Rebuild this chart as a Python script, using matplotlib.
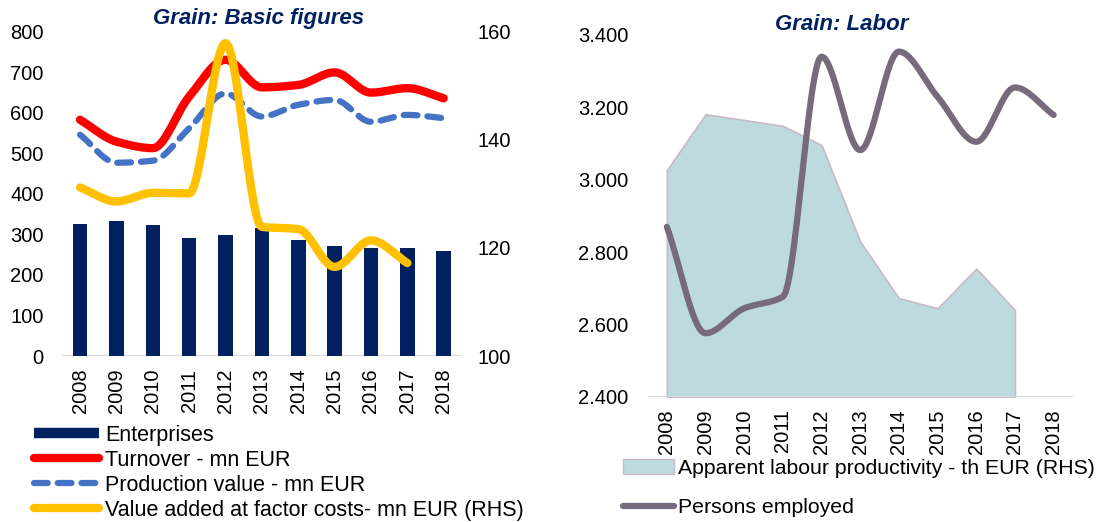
import numpy as np
import matplotlib
matplotlib.use("Agg")
import matplotlib.pyplot as plt
from matplotlib.patches import Patch
from matplotlib.lines import Line2D

plt.rcParams['font.family'] = ['Liberation Sans', 'DejaVu Sans']
plt.rcParams['font.size'] = 14.5

years = [2008, 2009, 2010, 2011, 2012, 2013, 2014, 2015, 2016, 2017, 2018]

# basic figures
enterprises = [326, 333, 323, 292, 298, 316, 287, 272, 267, 267, 259]
turnover = [583, 529, 513, 640, 731, 663, 669, 700, 650, 661, 636]
production = [546, 477, 482, 562, 648, 591, 620, 632, 578, 595, 587]
value_added = [131.2, 128.6, 130.2, 130.1, 157.9, 123.9, 123.5, 116.5, 121.4, 117.2]  # RHS, no 2018

# labour
persons = [2870, 2576, 2645, 2677, 3340, 3082, 3354, 3229, 3105, 3255, 3179]
productivity = [3027, 3181, 3165, 3149, 3096, 2829, 2673, 2645, 2755, 2640]  # RHS, no 2018

NAVY = '#002060'
RED = '#FF0000'
BLUE = '#4472C4'
GOLD = '#FFC000'
MAUVE = '#776A7D'
TEAL = '#BDDADF'


def smooth(x, y, n=30):
    # monotone cubic (Fritsch-Carlson) curve through the points
    x = np.asarray(x, float)
    y = np.asarray(y, float)
    h = np.diff(x)
    d = np.diff(y) / h
    m = np.zeros_like(y)
    m[0], m[-1] = d[0], d[-1]
    for i in range(1, len(y) - 1):
        if d[i - 1] * d[i] > 0:
            w1 = 2 * h[i] + h[i - 1]
            w2 = h[i] + 2 * h[i - 1]
            m[i] = (w1 + w2) / (w1 / d[i - 1] + w2 / d[i])
    xs, ys = [], []
    t = np.linspace(0, 1, n, endpoint=False)
    for i in range(len(h)):
        h00 = 2 * t ** 3 - 3 * t ** 2 + 1
        h10 = t ** 3 - 2 * t ** 2 + t
        h01 = -2 * t ** 3 + 3 * t ** 2
        h11 = t ** 3 - t ** 2
        xs.extend(x[i] + t * h[i])
        ys.extend(h00 * y[i] + h10 * h[i] * m[i] + h01 * y[i + 1] + h11 * h[i] * m[i + 1])
    xs.append(x[-1])
    ys.append(y[-1])
    return np.array(xs), np.array(ys)


def clean(ax):
    for s in ax.spines.values():
        s.set_visible(False)
    ax.tick_params(length=0)


fig = plt.figure(figsize=(11.05, 5.22), dpi=100)

# ---- left chart: basic figures ----
ax = fig.add_axes([0.056, 0.318, 0.362, 0.621])
x = np.arange(len(years))
ax.bar(x, enterprises, width=0.4, color=NAVY, zorder=2)
sx, sy = smooth(x, turnover)
ax.plot(sx, sy, color=RED, lw=6, solid_capstyle='round', zorder=3)
sx, sy = smooth(x, production)
ax.plot(sx, sy, color=BLUE, lw=4.5, dashes=(2.2, 1.6), dash_capstyle='round', zorder=3)
ax.set_ylim(0, 800)
ax.set_yticks(range(0, 801, 100))
ax.set_xlim(-0.5, len(years) - 0.5)
ax.set_xticks(x)
ax.set_xticklabels(years, rotation=90)
clean(ax)
ax.tick_params(axis='y', pad=13)
ax.tick_params(axis='x', pad=9)
ax.axhline(0, color='#D9D9D9', lw=1.5, zorder=1)

ax2 = ax.twinx()
sx, sy = smooth(x[:len(value_added)], value_added)
ax2.plot(sx, sy, color=GOLD, lw=6, solid_capstyle='round', zorder=4)
ax2.set_ylim(100, 160)
ax2.set_yticks([100, 120, 140, 160])
clean(ax2)
ax2.tick_params(axis='y', pad=11)

fig.text(0.234, 0.965, 'Grain: Basic figures', color=NAVY, fontsize=16,
         fontweight='bold', fontstyle='italic', ha='center', va='center')

h_left = [
    Line2D([], [], color=NAVY, lw=7.5, solid_capstyle='butt'),
    Line2D([], [], color=RED, lw=6, solid_capstyle='round'),
    Line2D([], [], color=BLUE, lw=4.5, dashes=(2.2, 1.6), dash_capstyle='round'),
    Line2D([], [], color=GOLD, lw=6, solid_capstyle='round'),
]
fig.legend(h_left, ['Enterprises', 'Turnover - mn EUR', 'Production value - mn EUR',
                    'Value added at factor costs- mn EUR (RHS)'],
           loc='upper left', bbox_to_anchor=(0.021, 0.207), frameon=False,
           handlelength=3.0, handletextpad=0.3, labelspacing=0.19, borderpad=0,
           fontsize=15.5)

# ---- right chart: labour ----
bx = fig.add_axes([0.586, 0.2395, 0.385, 0.6935])
bx2 = bx.twinx()
xp = np.arange(len(productivity))
bx2.fill_between(xp, productivity, 2400, color=TEAL, edgecolor='#C9B9C9', lw=1.2)
bx2.set_ylim(2400, 3400)
bx2.set_yticks([])
clean(bx2)

sx, sy = smooth(x, persons)
bx.plot(sx, sy, color=MAUVE, lw=4.5, solid_capstyle='round', zorder=3)
bx.set_ylim(2400, 3400)
bx.set_yticks(range(2400, 3401, 200))
bx.set_yticklabels([f'{v:,}'.replace(',', '.') for v in range(2400, 3401, 200)])
bx.set_xlim(-0.5, len(years) - 0.5)
bx.set_xticks(x)
bx.set_xticklabels(years, rotation=90)
clean(bx)
bx.tick_params(axis='y', pad=14)
bx.tick_params(axis='x', pad=9)
bx.set_zorder(bx2.get_zorder() + 1)
bx.patch.set_visible(False)
bx.axhline(2400, color='#D9D9D9', lw=1.5, zorder=1)

fig.text(0.762, 0.953, 'Grain: Labor', color=NAVY, fontsize=16,
         fontweight='bold', fontstyle='italic', ha='center', va='center')

h_right = [
    Patch(facecolor=TEAL, edgecolor='#C9B9C9'),
    Line2D([], [], color=MAUVE, lw=4.5, solid_capstyle='round'),
]
fig.legend(h_right, ['Apparent labour productivity - th EUR (RHS)', 'Persons employed'],
           loc='upper left', bbox_to_anchor=(0.554, 0.141), frameon=False,
           handlelength=2.4, handletextpad=0.2, labelspacing=0.95, borderpad=0,
           fontsize=15.3)

fig.savefig('out.png', dpi=100)
